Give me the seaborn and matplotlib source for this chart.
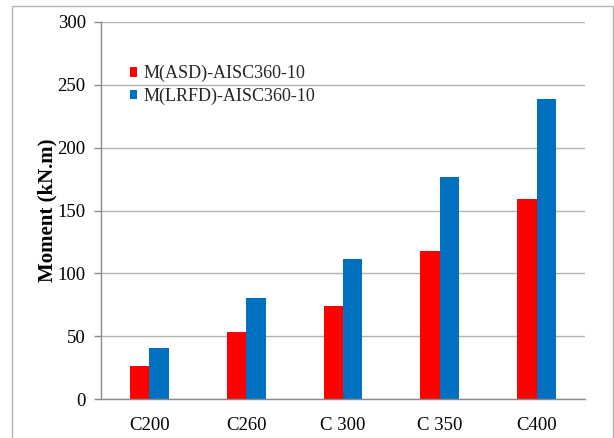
import matplotlib
matplotlib.use("Agg")
import matplotlib.pyplot as plt
from matplotlib.patches import Rectangle
import seaborn as sns
import pandas as pd

sections = ["C200", "C260", "C 300", "C 350", "C400"]
asd_values = [26.7, 53.5, 74.4, 118.1, 159.1]
lrfd_values = [40.5, 80.2, 111.5, 176.9, 238.5]
series_names = ["M(ASD)-AISC360-10", "M(LRFD)-AISC360-10"]
y_ticks = [0, 50, 100, 150, 200, 250, 300]

df = pd.DataFrame({
    "section": sections * 2,
    "moment": asd_values + lrfd_values,
    "method": [series_names[0]] * len(sections) + [series_names[1]] * len(sections),
})

sns.set_theme(style="white")
plt.rcParams["font.family"] = ["Liberation Serif", "DejaVu Serif"]

fig = plt.figure(figsize=(6.14, 4.38), dpi=100)
ax = fig.add_axes([101 / 614, 1 - 399.3 / 438, (585 - 101) / 614, (399.3 - 21.7) / 438])

sns.barplot(
    data=df, x="section", y="moment", hue="method",
    palette=["#FF0000", "#0070C0"], width=0.4, gap=0,
    saturation=1, ax=ax, edgecolor="none", linewidth=0,
)

ax.set_ylim(0, 300)
ax.set_xlim(-0.5, len(sections) - 0.5)
ax.set_yticks(y_ticks)
ax.yaxis.grid(True, color="#b3b3b3", linewidth=1)
ax.set_axisbelow(True)
for side in ["top", "right"]:
    ax.spines[side].set_visible(False)
for side in ["left", "bottom"]:
    ax.spines[side].set_color("#8c8c8c")
    ax.spines[side].set_linewidth(1)
ax.tick_params(axis="y", left=True, length=5, width=1, color="#8c8c8c",
               labelsize=13.5, labelcolor="#000000", pad=6)
ax.tick_params(axis="x", bottom=False, labelsize=13.5, labelcolor="#000000", pad=7)
ax.set_xlabel("")
ax.set_ylabel("Moment (kN.m)", fontsize=15, fontweight="bold", color="#000000")
ax.yaxis.set_label_coords(-44 / 484, 0.5)

handles, labels = ax.get_legend_handles_labels()
ax.legend(handles, labels, loc="upper left", bbox_to_anchor=(0.044, 0.904),
          frameon=False, fontsize=13, handlelength=0.4, handleheight=0.4,
          handletextpad=0.35, labelspacing=0.28, borderaxespad=0)

fig.add_artist(Rectangle((12 / 614, -0.02), (613 - 12) / 614, 1 - 6 / 438 + 0.02,
                         transform=fig.transFigure, fill=False,
                         edgecolor="#b3b3b3", linewidth=1))

fig.savefig("out.png", dpi=100)
